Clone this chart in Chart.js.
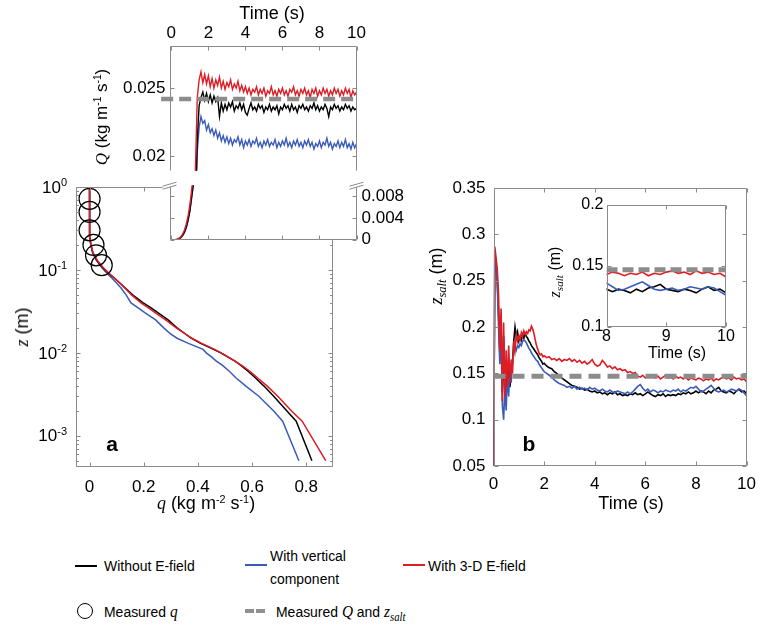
<!DOCTYPE html>
<html>
<head>
<meta charset="utf-8">
<script src="https://cdn.jsdelivr.net/npm/chart.js@4"></script>
<style>
body { margin: 0; background: #fff; }
#fig { position: relative; width: 764px; height: 629px; overflow: hidden; background: #fff;
       font-family: 'Liberation Sans', Arial, sans-serif; color: #000; }
canvas { position: absolute; }
.t { position: absolute; white-space: nowrap; line-height: 1; transform: translate(-50%, -50%); }
.l { position: absolute; white-space: nowrap; line-height: 1; transform-origin: 0 50%;
     transform: translate(0, -50%) scaleX(0.9); font-size: 15.5px; }
.r { transform: translate(-50%, -50%) rotate(-90deg); }
.v { font-family: 'Liberation Serif', 'DejaVu Serif', serif; font-style: italic; }
.sup { font-size: 0.6em; position: relative; top: -0.6em; }
.sub { font-size: 0.7em; position: relative; top: 0.3em; }
.ln { position: absolute; height: 2px; }
</style>
</head>
<body>
<div id="fig">
  <canvas id="cA" width="345" height="370" style="left:0;top:160px"></canvas>
  <canvas id="cQup" width="300" height="185" style="left:90px;top:0"></canvas>
  <canvas id="cQlo" width="320" height="85" style="left:90px;top:170px"></canvas>
  <canvas id="cB" width="344" height="350" style="left:420px;top:170px"></canvas>
  <canvas id="cBin" width="200" height="160" style="left:540px;top:190px"></canvas>

  <div class="t r" style="left:22px;top:327px;font-size:18px"><span class="v">z</span> (m)</div>
  <div class="t" style="left:206px;top:503px;font-size:18px"><span class="v">q</span> (kg m<span class="sup">-2</span> s<span class="sup">-1</span>)</div>
  <div class="t" style="left:272px;top:13px;font-size:18px">Time (s)</div>
  <div class="t r" style="left:101px;top:117px;font-size:17px"><span class="v">Q</span> (kg m<span class="sup">-1</span> s<span class="sup">-1</span>)</div>
  <div class="t r" style="left:436px;top:276px;font-size:18px"><span class="v">z<span class="sub">salt</span></span> (m)</div>
  <div class="t" style="left:631px;top:503px;font-size:18px">Time (s)</div>
  <div class="t r" style="left:555px;top:272px;font-size:16px"><span class="v">z<span class="sub">salt</span></span> (m)</div>
  <div class="t" style="left:677px;top:353px;font-size:16px">Time (s)</div>
  <div class="t" style="left:112px;top:443px;font-size:21px;font-weight:bold">a</div>
  <div class="t" style="left:529px;top:443px;font-size:21px;font-weight:bold">b</div>

  <div class="ln" style="left:75px;top:565px;width:22px;background:#000"></div>
  <div class="l" style="left:104px;top:566px">Without E-field</div>
  <div class="ln" style="left:245px;top:564px;width:22px;background:#3a5cb8"></div>
  <div class="l" style="left:270px;top:556px">With vertical</div>
  <div class="l" style="left:270px;top:579px">component</div>
  <div class="ln" style="left:403px;top:564px;width:22px;background:#dd1c24"></div>
  <div class="l" style="left:428px;top:566px">With 3-D E-field</div>
  <div style="position:absolute;left:77px;top:603px;width:14px;height:14px;border:1.2px solid #000;border-radius:50%"></div>
  <div class="l" style="left:104px;top:611px">Measured <span class="v" style="font-size:17px">q</span></div>
  <div style="position:absolute;left:245px;top:609px;width:9px;height:4px;background:#909090"></div>
  <div style="position:absolute;left:256px;top:609px;width:9px;height:4px;background:#909090"></div>
  <div class="l" style="left:276px;top:611px">Measured <span class="v" style="font-size:17px">Q</span> and <span class="v" style="font-size:17px">z<span class="sub">salt</span></span></div>
</div>
<script>
// ---- panel a: vertical profiles of q
const zLevels = [1, 0.7, 0.5, 0.35, 0.25, 0.2, 0.16, 0.13, 0.11, 0.1,
                 0.09, 0.08, 0.07, 0.06, 0.05, 0.04, 0.035, 0.03, 0.025, 0.02,
                 0.017, 0.015, 0.013, 0.011, 0.01, 0.009, 0.008, 0.007, 0.006, 0.005,
                 0.004, 0.003, 0.002, 0.0015, 0.0005];
const qProfBlack = [0, 0, 0, 0, 0.001, 0.005, 0.012, 0.027, 0.045, 0.057,
                    0.072, 0.091, 0.111, 0.133, 0.159, 0.198, 0.226, 0.256, 0.29, 0.323,
                    0.353, 0.375, 0.41, 0.458, 0.484, 0.508, 0.536, 0.56, 0.585, 0.612,
                    0.643, 0.68, 0.728, 0.763, 0.821];
const qProfBlue = [0, 0, 0, 0, 0.001, 0.005, 0.012, 0.026, 0.042, 0.053,
                   0.066, 0.082, 0.099, 0.117, 0.135, 0.153, 0.178, 0.208, 0.244, 0.274,
                   0.298, 0.323, 0.365, 0.419, 0.431, 0.449, 0.467, 0.492, 0.516, 0.54,
                   0.576, 0.625, 0.679, 0.713, 0.773];
const qProfRed = [0, 0, 0, 0, 0.001, 0.005, 0.013, 0.029, 0.047, 0.059,
                  0.074, 0.092, 0.11, 0.131, 0.155, 0.19, 0.216, 0.246, 0.281, 0.32,
                  0.352, 0.378, 0.414, 0.462, 0.486, 0.51, 0.535, 0.563, 0.592, 0.62,
                  0.655, 0.695, 0.745, 0.785, 0.872];
const qMeasured = [0, 0, 0, 0.0145, 0.024, 0.045];
const zMeasured = [0.72, 0.5, 0.3, 0.2, 0.15, 0.114];
const qTicks = [0, 0.2, 0.4, 0.6, 0.8];
const qTickLabels = ['0', '0.2', '0.4', '0.6', '0.8'];
const zDecades = [1, 0.1, 0.01, 0.001];
const zExponents = ['0', '-1', '-2', '-3'];
const zMinor = [0.0005, 0.0006, 0.0007, 0.0008, 0.0009, 0.002, 0.003, 0.004, 0.005, 0.006, 0.007, 0.008, 0.009,
                0.02, 0.03, 0.04, 0.05, 0.06, 0.07, 0.08, 0.09, 0.2, 0.3, 0.4, 0.5, 0.6, 0.7, 0.8, 0.9];

// ---- inset: Q time series, one sample every 0.1 s
const QStep = 0.1;
const QBlack = [0, 0, 0.00002, 0.00008, 0.0002, 0.0004, 0.0008, 0.0014, 0.0023, 0.0036,
  0.0054, 0.0080, 0.0104, 0.0160, 0.0212, 0.0237, 0.0243, 0.0247, 0.0241, 0.0246,
  0.0240, 0.0245, 0.0239, 0.0244, 0.0240, 0.0243, 0.0229, 0.0239, 0.0233, 0.0238,
  0.0234, 0.0239, 0.0236, 0.0240, 0.0233, 0.0237, 0.0235, 0.0239, 0.0234, 0.0238,
  0.0232, 0.0230, 0.0235, 0.0239, 0.0234, 0.0236, 0.0233, 0.0238, 0.0235, 0.0237,
  0.0232, 0.0236, 0.0234, 0.0238, 0.0233, 0.0236, 0.0234, 0.0237, 0.0231, 0.0236,
  0.0234, 0.0238, 0.0235, 0.0237, 0.0233, 0.0238, 0.0234, 0.0236, 0.0232, 0.0237,
  0.0235, 0.0238, 0.0234, 0.0236, 0.0233, 0.0237, 0.0235, 0.0239, 0.0234, 0.0237,
  0.0233, 0.0236, 0.0234, 0.0238, 0.0235, 0.0229, 0.0236, 0.0234, 0.0238, 0.0235,
  0.0237, 0.0233, 0.0236, 0.0234, 0.0238, 0.0235, 0.0237, 0.0233, 0.0236, 0.0234,
  0.0235];
const QBlue = [0, 0, 0.00001, 0.00006, 0.00017, 0.00035, 0.0007, 0.0012, 0.0021, 0.0034,
  0.0052, 0.0077, 0.0105, 0.0158, 0.0203, 0.0221, 0.0229, 0.0224, 0.0226, 0.0219,
  0.0223, 0.0217, 0.0220, 0.0215, 0.0219, 0.0213, 0.0217, 0.0211, 0.0215, 0.0210,
  0.0214, 0.0209, 0.0213, 0.0208, 0.0212, 0.0210, 0.0214, 0.0208, 0.0212, 0.0206,
  0.0211, 0.0208, 0.0212, 0.0207, 0.0211, 0.0209, 0.0213, 0.0207, 0.0210, 0.0206,
  0.0211, 0.0208, 0.0212, 0.0207, 0.0210, 0.0208, 0.0212, 0.0206, 0.0210, 0.0207,
  0.0211, 0.0208, 0.0213, 0.0207, 0.0210, 0.0206, 0.0211, 0.0208, 0.0212, 0.0207,
  0.0210, 0.0206, 0.0211, 0.0208, 0.0212, 0.0207, 0.0210, 0.0205, 0.0209, 0.0207,
  0.0211, 0.0206, 0.0210, 0.0208, 0.0213, 0.0207, 0.0210, 0.0205, 0.0209, 0.0207,
  0.0211, 0.0206, 0.0210, 0.0207, 0.0212, 0.0206, 0.0209, 0.0205, 0.0210, 0.0206,
  0.0209];
const QRed = [0, 0, 0.00003, 0.0001, 0.00025, 0.0005, 0.0010, 0.0017, 0.0028, 0.0043,
  0.0064, 0.0092, 0.0128, 0.0190, 0.0243, 0.0256, 0.0262, 0.0254, 0.0260, 0.0253,
  0.0259, 0.0251, 0.0257, 0.0250, 0.0256, 0.0252, 0.0258, 0.0250, 0.0255, 0.0249,
  0.0254, 0.0251, 0.0256, 0.0249, 0.0253, 0.0250, 0.0255, 0.0248, 0.0252, 0.0247,
  0.0251, 0.0246, 0.0250, 0.0245, 0.0249, 0.0247, 0.0251, 0.0245, 0.0249, 0.0246,
  0.0250, 0.0244, 0.0248, 0.0246, 0.0251, 0.0245, 0.0248, 0.0244, 0.0249, 0.0246,
  0.0250, 0.0245, 0.0248, 0.0244, 0.0249, 0.0247, 0.0251, 0.0245, 0.0248, 0.0244,
  0.0249, 0.0246, 0.0250, 0.0245, 0.0248, 0.0243, 0.0249, 0.0246, 0.0250, 0.0244,
  0.0248, 0.0245, 0.0250, 0.0246, 0.0249, 0.0244, 0.0248, 0.0245, 0.0250, 0.0246,
  0.0249, 0.0244, 0.0248, 0.0245, 0.0250, 0.0246, 0.0249, 0.0243, 0.0248, 0.0245,
  0.0247];
const QMeasured = 0.0242;
const QTimeTicks = [0, 2, 4, 6, 8, 10];
const QUpTicks = [0.02, 0.025];
const QUpLabels = ['0.02', '0.025'];
const QLoTicks = [0, 0.004, 0.008];
const QLoLabels = ['0', '0.004', '0.008'];

// ---- panel b: z_salt, every 0.05 s up to 2 s, then every 0.1 s
const zsBlack = [0,
  0.28, 0.27, 0.25, 0.215, 0.17, 0.205, 0.13, 0.19, 0.12, 0.16,
  0.13, 0.165, 0.135, 0.155, 0.16, 0.185, 0.2, 0.19, 0.195, 0.185,
  0.19, 0.186, 0.192, 0.188, 0.193, 0.19, 0.188, 0.185, 0.183, 0.18,
  0.178, 0.176, 0.174, 0.172, 0.17, 0.167, 0.165, 0.163, 0.16, 0.161,
  0.158, 0.156, 0.155, 0.152, 0.150, 0.147, 0.145, 0.143, 0.141, 0.139,
  0.137, 0.136, 0.135, 0.133, 0.134, 0.132, 0.133, 0.131, 0.130, 0.131,
  0.129, 0.130, 0.128, 0.129, 0.127, 0.129, 0.128, 0.130, 0.127, 0.128,
  0.126, 0.127, 0.126, 0.128, 0.127, 0.129, 0.127, 0.128, 0.126, 0.128,
  0.130, 0.128, 0.126, 0.125, 0.127, 0.126, 0.128, 0.125, 0.127, 0.126,
  0.127, 0.126, 0.128, 0.127, 0.129, 0.128, 0.130, 0.128, 0.129, 0.131,
  0.129, 0.131, 0.130, 0.128, 0.131, 0.129, 0.132, 0.133, 0.135, 0.131,
  0.130, 0.129, 0.131, 0.130, 0.128, 0.131, 0.133, 0.130, 0.131, 0.128];
const zsBlue = [0,
  0.28, 0.268, 0.245, 0.2, 0.16, 0.195, 0.115, 0.1, 0.135, 0.11,
  0.15, 0.125, 0.16, 0.14, 0.165, 0.17, 0.18, 0.175, 0.18, 0.178,
  0.182, 0.18, 0.185, 0.186, 0.185, 0.183, 0.18, 0.177, 0.175, 0.172,
  0.17, 0.168, 0.166, 0.164, 0.163, 0.16, 0.158, 0.156, 0.154, 0.152,
  0.150, 0.148, 0.146, 0.143, 0.141, 0.139, 0.138, 0.137, 0.135, 0.136,
  0.134, 0.136, 0.133, 0.135, 0.133, 0.134, 0.132, 0.135, 0.133, 0.134,
  0.132, 0.131, 0.133, 0.131, 0.130, 0.132, 0.130, 0.129, 0.131, 0.130,
  0.129, 0.128, 0.130, 0.128, 0.130, 0.133, 0.136, 0.138, 0.134, 0.131,
  0.133, 0.130, 0.132, 0.131, 0.129, 0.131, 0.130, 0.132, 0.131, 0.130,
  0.132, 0.131, 0.133, 0.130, 0.132, 0.131, 0.133, 0.135, 0.134, 0.136,
  0.133, 0.130, 0.131, 0.133, 0.135, 0.137, 0.134, 0.131, 0.130, 0.131,
  0.132, 0.130, 0.131, 0.133, 0.132, 0.131, 0.133, 0.132, 0.129, 0.126];
const zsRed = [0,
  0.287, 0.275, 0.262, 0.235, 0.175, 0.22, 0.12, 0.205, 0.125, 0.175,
  0.135, 0.18, 0.14, 0.165, 0.15, 0.185, 0.175, 0.192, 0.185, 0.19,
  0.186, 0.194, 0.19, 0.196, 0.192, 0.195, 0.193, 0.197, 0.196, 0.201,
  0.198, 0.193, 0.186, 0.18, 0.176, 0.172, 0.17, 0.171, 0.168, 0.169,
  0.167, 0.168, 0.165, 0.166, 0.164, 0.166, 0.163, 0.165, 0.164, 0.166,
  0.163, 0.165, 0.162, 0.164, 0.161, 0.163, 0.160, 0.162, 0.165, 0.160,
  0.158, 0.159, 0.164, 0.161, 0.157, 0.158, 0.155, 0.157, 0.154, 0.155,
  0.153, 0.154, 0.151, 0.152, 0.150, 0.151, 0.147, 0.146, 0.148, 0.145,
  0.147, 0.146, 0.148, 0.145, 0.147, 0.144, 0.146, 0.148, 0.145, 0.146,
  0.144, 0.147, 0.145, 0.146, 0.144, 0.146, 0.143, 0.145, 0.144, 0.143,
  0.145, 0.144, 0.142, 0.144, 0.143, 0.145, 0.142, 0.144, 0.143, 0.145,
  0.146, 0.144, 0.145, 0.143, 0.146, 0.144, 0.145, 0.143, 0.144, 0.141];
const zsMeasured = 0.147;
const bTimeTicks = [0, 2, 4, 6, 8, 10];
const bZTicks = [0.05, 0.1, 0.15, 0.2, 0.25, 0.3, 0.35];
const bZLabels = ['0.05', '0.1', '0.15', '0.2', '0.25', '0.3', '0.35'];
const inTimeTicks = [8, 9, 10];
const inZTicks = [0.1, 0.15, 0.2];
const inZLabels = ['0.1', '0.15', '0.2'];

const BLACK = '#000000', BLUE = '#3a5cb8', RED = '#dd1c24', DASH = '#8c8c8c', AXIS = '#8a8a8a';
const FONT = "'Liberation Sans', Arial, sans-serif";
const TICK = 4;

Chart.defaults.font.family = FONT;
Chart.defaults.font.size = 17;
Chart.defaults.color = '#000';
Chart.defaults.animation = false;

const qTime = QBlack.map((_, i) => +(i * QStep).toFixed(2));
const zTime = zsBlack.map((_, i) => i <= 40 ? +(i * 0.05).toFixed(2) : +((i - 20) * 0.1).toFixed(2));

const pts = (xs, ys) => xs.map((x, i) => ({ x: x, y: ys[i] }));
const line = (data, color, w) => ({ data: data, borderColor: color, borderWidth: w,
  pointRadius: 0, pointHoverRadius: 0, tension: 0 });
const dashed = (x0, x1, y, w, dash) => ({ data: [{ x: x0, y: y }, { x: x1, y: y }], borderColor: DASH,
  borderWidth: w, borderDash: dash, pointRadius: 0, pointHoverRadius: 0 });

// frame around the plot area with inward ticks, MATLAB style
const framePlugin = {
  id: 'frame',
  beforeDraw(chart, args, o) {
    if (!o.fill) return;
    const a = chart.chartArea, ctx = chart.ctx;
    ctx.save();
    ctx.fillStyle = '#fff';
    ctx.fillRect(a.left, a.top, a.right - a.left, a.bottom - a.top);
    ctx.restore();
  },
  afterDraw(chart, args, o) {
    const a = chart.chartArea, ctx = chart.ctx;
    const xs = chart.scales[o.xId || 'x'], ys = chart.scales[o.yId || 'y'];
    const s = o.sides || 'tlrb';
    const L = Math.round(a.left) + 0.5, R = Math.round(a.right) - 0.5;
    const T = Math.round(a.top) + 0.5, B = Math.round(a.bottom) - 0.5;
    ctx.save();
    ctx.strokeStyle = AXIS;
    ctx.lineWidth = 1;
    ctx.beginPath();
    if (s.includes('t')) { ctx.moveTo(L, T); ctx.lineTo(R, T); }
    if (s.includes('b')) { ctx.moveTo(L, B); ctx.lineTo(R, B); }
    if (s.includes('l')) { ctx.moveTo(L, T); ctx.lineTo(L, B); }
    if (s.includes('r')) { ctx.moveTo(R, T); ctx.lineTo(R, B); }
    (o.xTicks || []).forEach(v => {
      const p = Math.round(xs.getPixelForValue(v)) + 0.5;
      if (s.includes('t')) { ctx.moveTo(p, T); ctx.lineTo(p, T + TICK); }
      if (s.includes('b')) { ctx.moveTo(p, B); ctx.lineTo(p, B - TICK); }
    });
    const yt = (v, len) => {
      const p = Math.round(ys.getPixelForValue(v)) + 0.5;
      if (s.includes('l')) { ctx.moveTo(L, p); ctx.lineTo(L + len, p); }
      if (s.includes('r')) { ctx.moveTo(R, p); ctx.lineTo(R - len, p); }
    };
    (o.yTicks || []).forEach(v => yt(v, TICK));
    (o.yMinor || []).forEach(v => yt(v, 2.5));
    ctx.stroke();
    if (o.breaks) {
      const y = o.breaks === 'top' ? a.top : a.bottom;
      [a.left, a.right].forEach(x => {
        ctx.fillStyle = '#fff';
        ctx.beginPath();
        ctx.moveTo(x - 7, y + 1); ctx.lineTo(x + 7, y - 3); ctx.lineTo(x + 7, y); ctx.lineTo(x - 7, y + 4);
        ctx.closePath();
        ctx.fill();
        ctx.beginPath();
        ctx.moveTo(x - 7, y + 1); ctx.lineTo(x + 7, y - 3);
        ctx.moveTo(x - 7, y + 4); ctx.lineTo(x + 7, y);
        ctx.stroke();
      });
    }
    ctx.restore();
  }
};

// "10^k" labels on the log axis of panel a
const logLabels = {
  id: 'logLabels',
  afterDraw(chart) {
    const ys = chart.scales.y, ctx = chart.ctx, xr = chart.chartArea.left - 9;
    ctx.save();
    ctx.fillStyle = '#000';
    ctx.textBaseline = 'middle';
    zDecades.forEach((v, i) => {
      const p = ys.getPixelForValue(v);
      ctx.font = '11px ' + FONT;
      const ew = ctx.measureText(zExponents[i]).width;
      ctx.textAlign = 'left';
      ctx.fillText(zExponents[i], xr - ew, p - 4);
      ctx.font = '17px ' + FONT;
      ctx.textAlign = 'right';
      ctx.fillText('10', xr - ew, p + 1);
    });
    ctx.restore();
  }
};

function axis(cfg) {
  const ax = {
    type: cfg.type || 'linear', min: cfg.min, max: cfg.max, display: cfg.display !== false,
    position: cfg.position,
    grid: { display: false, drawTicks: false },
    border: { display: false },
    ticks: { display: !!cfg.labels, padding: cfg.pad || 0, autoSkip: false, maxRotation: 0,
             font: { size: cfg.size || 17 },
             callback: (v, i) => cfg.labels ? cfg.labels[i] : '' },
    afterBuildTicks: s => { s.ticks = cfg.ticks.map(v => ({ value: v })); }
  };
  if (cfg.w !== undefined) ax.afterFit = s => { s.width = cfg.w; };
  if (cfg.h !== undefined) ax.afterFit = s => { s.height = cfg.h; };
  return ax;
}

const noLegend = { legend: { display: false }, tooltip: { enabled: false } };

// panel a
new Chart(document.getElementById('cA'), {
  type: 'line',
  data: { datasets: [
    { data: pts(qMeasured, zMeasured), showLine: false, pointRadius: 10.5, pointHoverRadius: 10.5,
      pointBorderColor: BLACK, pointBorderWidth: 1.2, pointBackgroundColor: 'rgba(0,0,0,0)' },
    line(pts(qProfRed, zLevels), RED, 1.5),
    line(pts(qProfBlack, zLevels), BLACK, 1.5),
    line(pts(qProfBlue, zLevels), BLUE, 1.5)
  ] },
  options: {
    responsive: false, devicePixelRatio: 1,
    layout: { padding: { top: 27, right: 7, left: 0, bottom: 0 } },
    scales: {
      x: axis({ min: -0.05, max: 0.9, ticks: qTicks, labels: qTickLabels, pad: 10, h: 63 }),
      y: axis({ type: 'logarithmic', min: 4.2e-4, max: 1, ticks: zDecades, w: 76 })
    },
    plugins: Object.assign({ frame: { xTicks: qTicks, yTicks: zDecades, yMinor: zMinor } }, noLegend)
  },
  plugins: [framePlugin, logLabels]
});

// inset Q, upper part of the broken axis
new Chart(document.getElementById('cQup'), {
  type: 'line',
  data: { datasets: [
    Object.assign(dashed(-0.55, 10, QMeasured, 4.5, [12, 6]), { clip: { left: 12, top: 0, right: 0, bottom: 0 } }),
    line(pts(qTime, QRed), RED, 1.4),
    line(pts(qTime, QBlack), BLACK, 1.4),
    line(pts(qTime, QBlue), BLUE, 1.4)
  ] },
  options: {
    responsive: false, devicePixelRatio: 1,
    layout: { padding: { top: 0, right: 33.5, left: 0, bottom: 10 } },
    scales: {
      x: axis({ position: 'top', min: -0.1, max: 10, ticks: QTimeTicks, labels: QTimeTicks.map(String), pad: 2, h: 46 }),
      y: axis({ min: 0.0189, max: 0.0281, ticks: QUpTicks, labels: QUpLabels, pad: 4, w: 79.5 })
    },
    plugins: Object.assign({ frame: { fill: true, sides: 'tlr', xTicks: QTimeTicks, yTicks: QUpTicks } }, noLegend)
  },
  plugins: [framePlugin]
});

// inset Q, lower part of the broken axis
new Chart(document.getElementById('cQlo'), {
  type: 'line',
  data: { datasets: [
    line(pts(qTime, QRed), RED, 1.4),
    line(pts(qTime, QBlack), BLACK, 1.4),
    line(pts(qTime, QBlue), BLUE, 1.4)
  ] },
  options: {
    responsive: false, devicePixelRatio: 1,
    layout: { padding: { top: 5, right: 0, left: 79.5, bottom: 12 } },
    scales: {
      x: axis({ min: -0.1, max: 10, ticks: QTimeTicks, display: false }),
      y: axis({ position: 'right', min: 0, max: 0.01, ticks: QLoTicks, labels: QLoLabels, pad: 5, w: 53.5 })
    },
    plugins: Object.assign({ frame: { fill: true, sides: 'lrb', breaks: 'top', xTicks: QTimeTicks, yTicks: QLoTicks } }, noLegend)
  },
  plugins: [framePlugin]
});

// panel b
new Chart(document.getElementById('cB'), {
  type: 'line',
  data: { datasets: [
    dashed(0, 10, zsMeasured, 5, [12, 7]),
    line(pts(zTime, zsRed), RED, 1.6),
    line(pts(zTime, zsBlue), BLUE, 1.6),
    line(pts(zTime, zsBlack), BLACK, 1.6)
  ] },
  options: {
    responsive: false, devicePixelRatio: 1,
    layout: { padding: { top: 17, right: 7, left: 0, bottom: 0 } },
    scales: {
      x: axis({ min: 0, max: 10, ticks: bTimeTicks, labels: bTimeTicks.map(String), pad: 8, h: 54 }),
      y: axis({ min: 0.05, max: 0.35, ticks: bZTicks, labels: bZLabels, pad: 8, w: 73.5 })
    },
    plugins: Object.assign({ frame: { xTicks: bTimeTicks, yTicks: bZTicks } }, noLegend)
  },
  plugins: [framePlugin]
});

// panel b inset, last two seconds
new Chart(document.getElementById('cBin'), {
  type: 'line',
  data: { datasets: [
    dashed(8, 10, zsMeasured, 5, [11, 5]),
    line(pts(zTime, zsRed), RED, 1.6),
    line(pts(zTime, zsBlue), BLUE, 1.6),
    line(pts(zTime, zsBlack), BLACK, 1.6)
  ] },
  options: {
    responsive: false, devicePixelRatio: 1,
    layout: { padding: { top: 15, right: 14, left: 0, bottom: 0 } },
    scales: {
      x: axis({ min: 8, max: 10, ticks: inTimeTicks, labels: inTimeTicks.map(String), pad: 0, h: 23, size: 16 }),
      y: axis({ min: 0.1, max: 0.2, ticks: inZTicks, labels: inZLabels, pad: 3, w: 66.5, size: 16 })
    },
    plugins: Object.assign({ frame: { fill: true, xTicks: inTimeTicks, yTicks: inZTicks } }, noLegend)
  },
  plugins: [framePlugin]
});
</script>
</body>
</html>
